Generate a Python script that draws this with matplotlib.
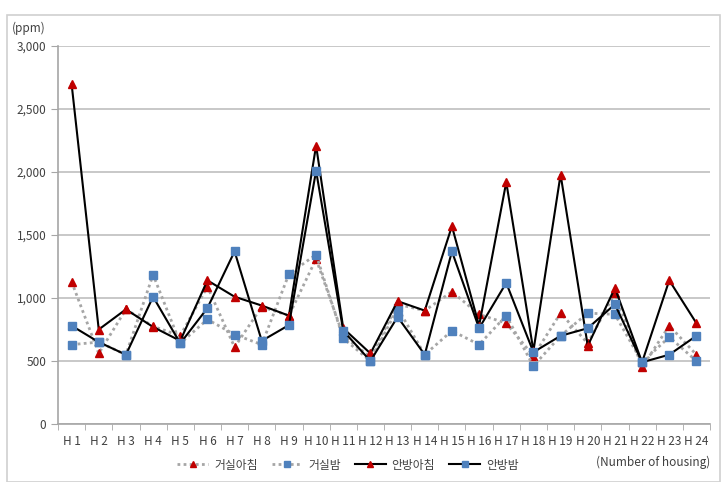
import matplotlib
matplotlib.use('Agg')
import matplotlib.pyplot as plt
from matplotlib.patches import Rectangle
from matplotlib.ticker import FuncFormatter, FixedLocator
import numpy as np

plt.rcParams['font.family'] = ['Noto Sans CJK KR', 'DejaVu Sans']

houses = ['H %d' % i for i in range(1, 25)]

# CO2 concentration (ppm) per house
living_morning = [1130, 560, 910, 775, 700, 1090, 610, 930, 860, 1310, 700, 530,
                  950, 900, 1050, 870, 800, 540, 880, 640, 1040, 450, 780, 550]
living_night = [630, 650, 550, 1185, 640, 830, 710, 630, 1190, 1345, 680, 500,
                920, 550, 740, 630, 860, 460, 700, 880, 870, 490, 690, 500]
room_morning = [2700, 750, 910, 770, 660, 1140, 1010, 940, 860, 2210, 760, 560,
                975, 900, 1570, 780, 1920, 580, 1980, 620, 1080, 490, 1140, 800]
room_night = [780, 650, 550, 1010, 640, 920, 1370, 660, 785, 2010, 740, 500,
              850, 550, 1370, 760, 1120, 570, 700, 760, 950, 490, 550, 700]

series = [
    ('거실아침', living_morning, '^', '#c00000', (0, (1, 1.2)), '#a6a6a6'),
    ('거실밤', living_night, 's', '#4f81bd', (0, (1, 1.2)), '#a6a6a6'),
    ('안방아침', room_morning, '^', '#c00000', '-', 'black'),
    ('안방밤', room_night, 's', '#4f81bd', '-', 'black'),
]

fig = plt.figure(figsize=(7.24, 4.82), dpi=100)
ax = fig.add_axes([58 / 724, 1 - 424 / 482, 652 / 724, 378 / 482])

x = np.arange(len(houses))
for label, vals, mk, mcol, ls, lcol in series:
    ax.plot(x, vals, linestyle=ls, color=lcol, linewidth=2.0 if ls != '-' else 1.5,
            marker=mk, markersize=5.5, markerfacecolor=mcol, markeredgecolor=mcol,
            label=label)

ax.set_xlim(-0.5, len(houses) - 0.5)
ax.set_ylim(0, 3000)
ax.set_yticks(np.arange(0, 3001, 500))
ax.yaxis.set_major_formatter(FuncFormatter(lambda v, p: f'{int(v):,}'))
ax.yaxis.grid(True, color='#bfbfbf', linewidth=1.2)
ax.set_axisbelow(True)

ax.set_xticks(x)
ax.set_xticklabels(houses)
ax.xaxis.set_minor_locator(FixedLocator(np.arange(-0.5, len(houses), 1)))
ax.tick_params(axis='x', which='major', length=0, labelsize=8.5, colors='#404040', pad=8)
ax.tick_params(axis='x', which='minor', length=4, color='#a6a6a6')
ax.tick_params(axis='y', length=5, color='#a6a6a6', labelsize=8.5, labelcolor='#404040')

for s in ['top', 'right']:
    ax.spines[s].set_visible(False)
for s in ['left', 'bottom']:
    ax.spines[s].set_color('#a6a6a6')
    ax.spines[s].set_linewidth(1.2)

fig.text(12 / 724, 1 - 28 / 482, '(ppm)', fontsize=8.5, color='#404040', va='center')
fig.text(710 / 724, 1 - 462 / 482, '(Number of housing)', fontsize=8.5,
         color='#404040', ha='right', va='center')

leg = fig.legend(loc='center', bbox_to_anchor=(348 / 724, 1 - 465 / 482), ncol=4,
                 frameon=False, fontsize=8.5, handlelength=2.6, columnspacing=1.2,
                 handletextpad=0.5, markerscale=0.9)
for t in leg.get_texts():
    t.set_color('#404040')

fig.patches.append(Rectangle((7 / 724, 0), 713 / 724, 1 - 15 / 482,
                             transform=fig.transFigure, fill=False,
                             edgecolor='#d0d0d0', linewidth=1.2))

fig.savefig('out.png', dpi=100)
